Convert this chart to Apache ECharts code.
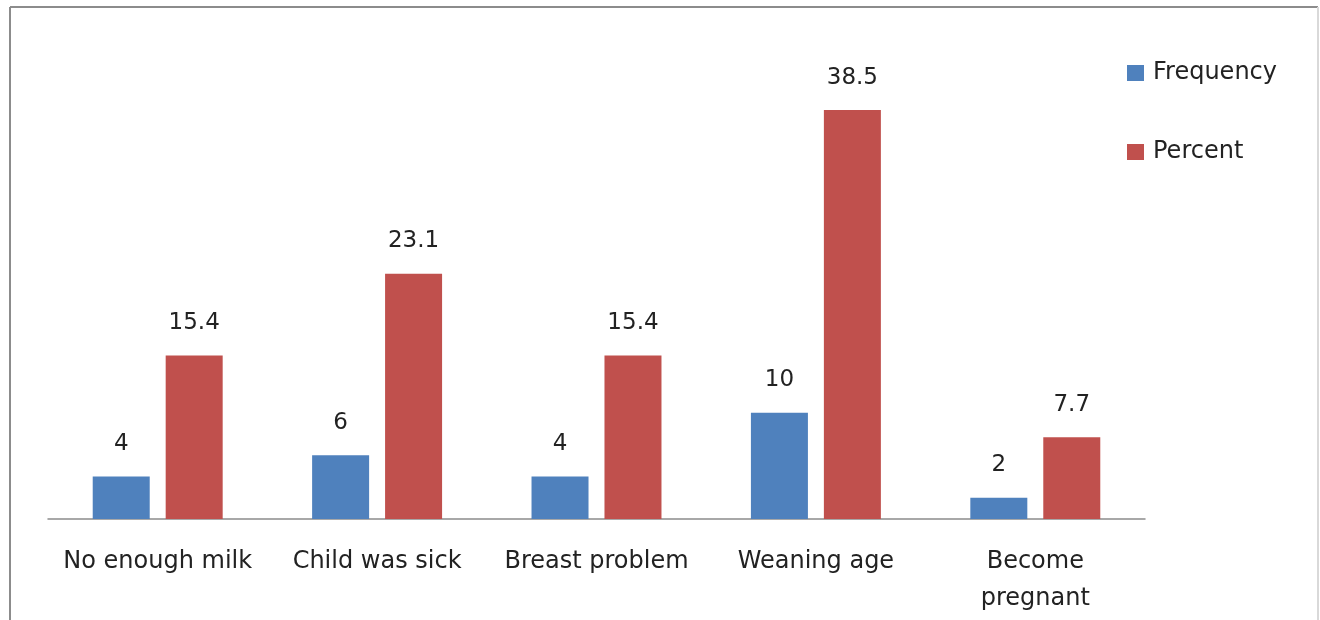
<!DOCTYPE html>
<html>
<head>
<meta charset="utf-8">
<script src="https://cdn.jsdelivr.net/npm/echarts@6/dist/echarts.min.js"></script>
<style>
  html, body { margin: 0; padding: 0; background: #fff; }
</style>
</head>
<body>
<div id="reasonChart" style="width: 1320px; height: 620px"></div>
<script>
// categories and series values
var categories = ['No enough milk', 'Child was sick', 'Breast problem', 'Weaning age', 'Become\npregnant'];
var frequency = [4, 6, 4, 10, 2];
var percent = [15.4, 23.1, 15.4, 38.5, 7.7];

var chart = echarts.init(document.getElementById('reasonChart'));
var textFont = 'DejaVu Sans';

var option = {
  backgroundColor: '#fff',
  animation: false,
  // outer frame (no bottom edge in the picture)
  graphic: [
    { type: 'line', shape: { x1: 10, y1: 7, x2: 1318, y2: 7 }, style: { stroke: '#8c8c8c', lineWidth: 2 } },
    { type: 'line', shape: { x1: 10, y1: 7, x2: 10, y2: 620 }, style: { stroke: '#8c8c8c', lineWidth: 2 } },
    { type: 'line', shape: { x1: 1318, y1: 7, x2: 1318, y2: 620 }, style: { stroke: '#d9d9d9', lineWidth: 2 } }
  ],
  legend: {
    orient: 'vertical',
    left: 1127,
    top: 61,
    padding: 0,
    itemWidth: 17,
    itemHeight: 16,
    itemGap: 55,
    icon: 'rect',
    textStyle: { fontFamily: textFont, fontSize: 24, color: '#222', padding: [0, 0, 0, 4] },
    data: ['Frequency', 'Percent']
  },
  grid: {
    left: 48,
    right: 175,
    top: 41,
    bottom: 101
  },
  xAxis: {
    type: 'category',
    data: categories,
    axisLine: { lineStyle: { color: '#8c8c8c', width: 1.5 } },
    axisTick: { show: false },
    axisLabel: {
      interval: 0,
      margin: 24,
      fontFamily: textFont,
      fontSize: 24,
      lineHeight: 37,
      color: '#222'
    }
  },
  yAxis: {
    type: 'value',
    min: 0,
    max: 45,
    show: false,
    splitLine: { show: false }
  },
  series: [
    {
      name: 'Frequency',
      type: 'bar',
      data: frequency,
      color: '#4F81BD',
      barWidth: 57,
      barGap: '28%',
      label: {
        show: true,
        position: 'top',
        distance: 21,
        fontFamily: textFont,
        fontSize: 23,
        color: '#222'
      }
    },
    {
      name: 'Percent',
      type: 'bar',
      data: percent,
      color: '#C0504D',
      barWidth: 57,
      label: {
        show: true,
        position: 'top',
        distance: 21,
        fontFamily: textFont,
        fontSize: 23,
        color: '#222'
      }
    }
  ]
};

chart.setOption(option);
</script>
</body>
</html>
